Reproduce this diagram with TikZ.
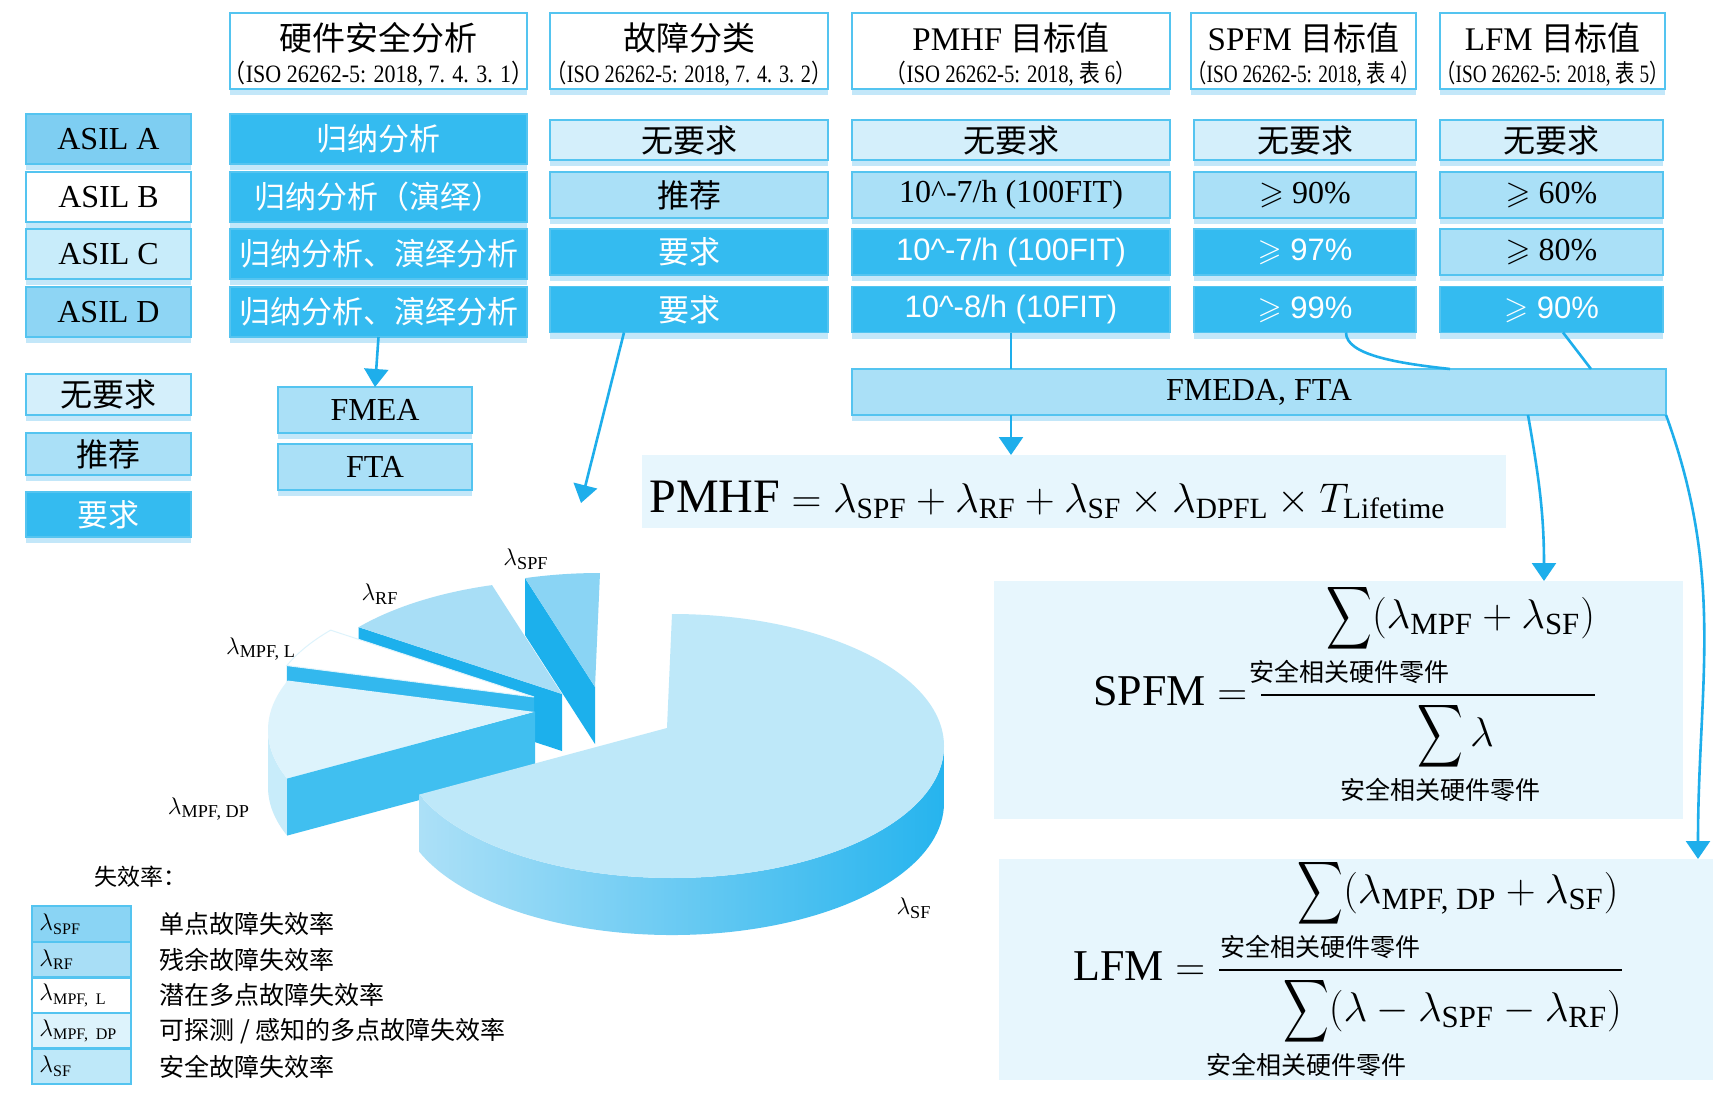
\documentclass[tikz,border=0pt]{standalone}
\usepackage{amsmath,amssymb}
\usepackage{graphicx}
\usepackage{fontspec}
\setmainfont{Liberation Serif}
\setsansfont{Liberation Sans}
\newfontfamily\cjk{Noto Sans CJK SC}
\usepackage{xcolor}
\usepackage{tikz}
\usetikzlibrary{arrows.meta,positioning,calc,shadows}
\definecolor{celldark}{RGB}{52,187,240}
\definecolor{cellmid}{RGB}{170,224,247}
\definecolor{celllight}{RGB}{212,239,251}
\definecolor{asilafill}{RGB}{126,206,242}
\definecolor{asilcfill}{RGB}{200,236,250}
\definecolor{asildfill}{RGB}{142,213,244}
\definecolor{boxline}{RGB}{84,196,240}
\definecolor{shadowblue}{RGB}{180,226,248}
\definecolor{eqback}{RGB}{231,246,253}
\definecolor{arrowblue}{RGB}{30,174,235}
\definecolor{piesf}{RGB}{190,232,249}
\definecolor{piesfl}{RGB}{172,224,247}
\definecolor{piesfside}{RGB}{38,180,238}
\definecolor{piespf}{RGB}{138,212,244}
\definecolor{pierf}{RGB}{168,222,246}
\definecolor{piedp}{RGB}{221,243,252}
\definecolor{piedpside}{RGB}{200,236,250}
\definecolor{piewall}{RGB}{28,176,236}
\definecolor{piedpwall}{RGB}{64,191,240}
\newcommand{\zh}[1]{{\cjk #1}}
\newcommand{\subt}[2]{\scalebox{#1}[1]{#2}}
\newcommand{\partset}{\hbox to 0pt{\hss\fontsize{12.5}{13}\selectfont\cjk 安全相关硬件零件\hss}}
\newcommand{\bigsum}{\mathop{\scalebox{0.72}[1]{$\displaystyle\sum$}}\limits}
\newcommand{\ratio}[2]{\genfrac{}{}{0.9pt}{}{#1}{#2}}

\begin{document}
\begin{tikzpicture}[x=0.5pt,y=0.5pt,
  cell/.style={draw=boxline,line width=0.7pt,inner sep=0pt,outer sep=0pt,
    font=\fontsize{16}{18}\selectfont,
    drop shadow={shadow xshift=0pt,shadow yshift=-3pt,fill=shadowblue,opacity=0.8}},
  hdr/.style={cell,fill=white,minimum height=38pt},
  hdrtitle/.style={inner sep=0pt,font=\fontsize{16.5}{18}\selectfont},
  hdrsub/.style={inner sep=0pt,font=\fontsize{12.5}{14}\selectfont},
  dark/.style={cell,fill=celldark,text=white,font=\sffamily\fontsize{15.5}{18}\selectfont},
  mid/.style={cell,fill=cellmid},
  light/.style={cell,fill=celllight},
  asil/.style={cell,minimum width=82.5pt,minimum height=25pt},
  hsacol/.style={minimum width=148.5pt,minimum height=25pt},
  fccol/.style={minimum width=139pt,minimum height=23pt},
  pmhfcol/.style={minimum width=159pt,minimum height=23pt},
  spfmcol/.style={minimum width=111pt,minimum height=23pt},
  lfmcol/.style={minimum width=111.5pt,minimum height=23pt},
  firstrow/.style={minimum height=20pt},
  key/.style={minimum width=82.5pt},
  method/.style={mid,minimum width=97pt,minimum height=23pt},
  eqbox/.style={fill=eqback,inner sep=0pt,outer sep=0pt},
  eqtext/.style={inner sep=0pt,font=\fontsize{22}{26}\selectfont},
  pierad/.style={x radius=136pt,y radius=66pt},
  pielabel/.style={inner sep=0pt,font=\fontsize{13}{15}\selectfont},
  swatch/.style={draw=boxline,line width=1.2pt,inner xsep=3.75pt,inner ysep=0pt,outer sep=0pt,
    text width=42pt,align=left,minimum height=17.8pt,font=\fontsize{11.5}{12}\selectfont},
  keytext/.style={inner sep=0pt,font=\cjk\fontsize{12.5}{14}\selectfont},
  link/.style={draw=arrowblue,line width=1.3pt},
  arrow/.style={link,-{Triangle[length=9pt,width=12pt]}}
]
\useasboundingbox (0,0) rectangle (1726,-1097);
\fill[white] (0,0) rectangle (1726,-1097);

% column heads
\node[hdr,minimum width=148.5pt] (hsa) at (378.5,-51) {};
\node[hdrtitle] (hsat) at (378.5,-38) {\zh{硬件安全分析}};
\node[hdrsub] (hsas) at (378.5,-74) {\subt{0.88}{\zh{（}ISO 26262-5: 2018, 7. 4. 3. 1\zh{）}}};
\node[hdr,minimum width=139pt] (fc) at (689,-51) {};
\node[hdrtitle] (fct) at (689,-38) {\zh{故障分类}};
\node[hdrsub] (fcs) at (689,-74) {\subt{0.81}{\zh{（}ISO 26262-5: 2018, 7. 4. 3. 2\zh{）}}};
\node[hdr,minimum width=159pt] (pmhf) at (1011,-51) {};
\node[hdrtitle] (pmhft) at (1011,-38) {PMHF \zh{目标值}};
\node[hdrsub] (pmhfs) at (1011,-74) {\subt{0.83}{\zh{（}ISO 26262-5: 2018, \zh{表} 6\zh{）}}};
\node[hdr,minimum width=112.5pt] (spfm) at (1303.5,-51) {};
\node[hdrtitle] (spfmt) at (1303.5,-38) {SPFM \zh{目标值}};
\node[hdrsub] (spfms) at (1303.5,-74) {\subt{0.77}{\zh{（}ISO 26262-5: 2018, \zh{表} 4\zh{）}}};
\node[hdr,minimum width=112.5pt] (lfm) at (1552.5,-51) {};
\node[hdrtitle] (lfmt) at (1552.5,-38) {LFM \zh{目标值}};
\node[hdrsub] (lfms) at (1552.5,-74) {\subt{0.77}{\zh{（}ISO 26262-5: 2018, \zh{表} 5\zh{）}}};

% ASIL levels
\node[asil,fill=asilafill] (asila) at (108.5,-139) {ASIL A};
\node[asil,fill=white] (asilb) at (108.5,-197) {ASIL B};
\node[asil,fill=asilcfill] (asilc) at (108.5,-254) {ASIL C};
\node[asil,fill=asildfill] (asild) at (108.5,-312) {ASIL D};

% hardware safety analysis
\node[dark,hsacol] (hsa1) at (378.5,-139) {\zh{归纳分析}};
\node[dark,hsacol] (hsa2) at (378.5,-197) {\zh{归纳分析（演绎）}};
\node[dark,hsacol] (hsa3) at (378.5,-254) {\zh{归纳分析、演绎分析}};
\node[dark,hsacol] (hsa4) at (378.5,-312) {\zh{归纳分析、演绎分析}};

% fault classes
\node[light,fccol,firstrow] (fc1) at (689,-140) {\zh{无要求}};
\node[mid,fccol] (fc2) at (689,-195) {\zh{推荐}};
\node[dark,fccol] (fc3) at (689,-252) {\zh{要求}};
\node[dark,fccol] (fc4) at (689,-309.5) {\zh{要求}};

% PMHF targets
\node[light,pmhfcol,firstrow] (pmhf1) at (1011,-140) {\zh{无要求}};
\node[mid,pmhfcol] (pmhf2) at (1011,-195) {10\textasciicircum-7/h (100FIT)};
\node[dark,pmhfcol] (pmhf3) at (1011,-252) {10\textasciicircum-7/h (100FIT)};
\node[dark,pmhfcol] (pmhf4) at (1011,-309.5) {10\textasciicircum-8/h (10FIT)};

% SPFM targets
\node[light,spfmcol,firstrow] (spfm1) at (1305,-140) {\zh{无要求}};
\node[mid,spfmcol] (spfm2) at (1305,-195) {$\geqslant$ 90\%};
\node[dark,spfmcol] (spfm3) at (1305,-252) {$\geqslant$ 97\%};
\node[dark,spfmcol] (spfm4) at (1305,-309.5) {$\geqslant$ 99\%};

% LFM targets
\node[light,lfmcol,firstrow] (lfm1) at (1551.5,-140) {\zh{无要求}};
\node[mid,lfmcol] (lfm2) at (1551.5,-195) {$\geqslant$ 60\%};
\node[mid,lfmcol] (lfm3) at (1551.5,-252) {$\geqslant$ 80\%};
\node[dark,lfmcol] (lfm4) at (1551.5,-309.5) {$\geqslant$ 90\%};

% key of cell colours
\node[light,key,minimum height=20.5pt] (keyno) at (108.5,-394.5) {\zh{无要求}};
\node[mid,key,minimum height=21pt] (keyrec) at (108.5,-454) {\zh{推荐}};
\node[dark,key,minimum height=22.5pt] (keyreq) at (108.5,-514.5) {\zh{要求}};

% methods
\node[method] (fmea) at (375,-410) {FMEA};
\node[method] (fta) at (375,-467) {FTA};
\node[mid,minimum width=407pt,minimum height=23pt] (fmeda) at (1259,-392) {FMEDA, FTA};

% formulas
\node[eqbox,minimum width=432pt,minimum height=36.5pt] (pmhfeq) at (1074,-491.5) {};
\node[eqbox,minimum width=344.5pt,minimum height=119pt] (spfmeq) at (1338.5,-700) {};
\node[eqbox,minimum width=357pt,minimum height=110.5pt] (lfmeq) at (1356,-969.5) {};
\node[eqtext,anchor=base west,font=\fontsize{21}{25}\selectfont] (pmhfeqt) at (649,-512)
  {$\text{\fontsize{24}{28}\selectfont PMHF}=\lambda_{\text{SPF}}+\lambda_{\text{RF}}+\lambda_{\text{SF}}\times\lambda_{\text{DPFL}}\times T_{\text{Lifetime}}$};
\node[eqtext,anchor=base west] (spfmeqt) at (1093,-705)
  {$\displaystyle\text{SPFM}=\ratio{\hskip32.5pt\bigsum_{\partset}(\lambda_{\text{MPF}}+\lambda_{\text{SF}})}{\hskip27.5pt\bigsum_{\partset}\lambda}$};
\node[eqtext,anchor=base west] (lfmeqt) at (1073,-980)
  {$\displaystyle\text{LFM}=\ratio{\hskip37.5pt\bigsum_{\partset}(\lambda_{\text{MPF, DP}}+\lambda_{\text{SF}})}{\hskip32pt\bigsum_{\partset}(\lambda-\lambda_{\text{SPF}}-\lambda_{\text{RF}})}$};

% connectors
\coordinate (fcend) at (581,-503);
\draw[arrow] (hsa4.south) -- (fmea.north);
\draw[arrow] ([xshift=-32.5pt]fc4.south) -- (fcend);
\draw[link] (pmhf4.south) -- (pmhf4.south |- fmeda.north);
\draw[arrow] (pmhf4.south |- fmeda.south) -- (pmhf4.south |- pmhfeq.north);
\draw[link] ([xshift=20.5pt]spfm4.south) .. controls +(0,-22) and +(-55,6) .. ([xshift=95.5pt]fmeda.north);
\draw[link] ([xshift=5.75pt]lfm4.south) -- ([xshift=166pt]fmeda.north);
\draw[arrow] ([xshift=134.5pt]fmeda.south) to[out=-80,in=90] ([xshift=102.75pt]spfmeq.north);
\draw[arrow] (fmeda.south east) to[out=-70,in=90] ([xshift=171pt]lfmeq.north);

% exploded pie
\coordinate (spfc) at (600,-705);  \coordinate (spfapex) at (595,-687);
\coordinate (rfc) at (567,-712);   \coordinate (rfapex) at (562,-694);
\coordinate (mlc) at (539,-715);   \coordinate (mlapex) at (534,-697);
\coordinate (dpc) at (540,-730);   \coordinate (dpapex) at (535,-712);
\coordinate (sfc) at (672,-746);   \coordinate (sfapex) at (667,-728);
\fill[piewall] (spfapex) -- ($(spfc)+(106:136pt and 66pt)$) -- ++(0,-57) -- ($(spfapex)+(0,-57)$) -- cycle;
\fill[piespf] (spfapex) -- ($(spfc)+(90:136pt and 66pt)$) arc[start angle=90,end angle=106,pierad] -- cycle;
\fill[piewall] (rfapex) -- ($(rfc)+(140:136pt and 66pt)$) -- ++(0,-57) -- ($(rfapex)+(0,-57)$) -- cycle;
\fill[pierf] (rfapex) -- ($(rfc)+(106:136pt and 66pt)$) arc[start angle=106,end angle=140,pierad] -- cycle;
\fill[piewall!90!white] (mlapex) -- ($(mlc)+(158:136pt and 66pt)$) -- ++(0,-57) -- ($(mlapex)+(0,-57)$) -- cycle;
\filldraw[fill=white,draw=piedp,line width=0.5pt] (mlapex) -- ($(mlc)+(140:136pt and 66pt)$) arc[start angle=140,end angle=158,pierad] -- cycle;
\fill[piedpside] ($(dpc)+(180:136pt and 66pt)$) arc[start angle=180,end angle=201.6,pierad] -- ++(0,-57) arc[start angle=201.6,end angle=180,pierad] -- cycle;
\fill[piedp] (dpapex) -- ($(dpc)+(158:136pt and 66pt)$) arc[start angle=158,end angle=201.6,pierad] -- cycle;
\fill[piedpwall] (dpapex) -- ($(dpc)+(201.6:136pt and 66pt)$) -- ++(0,-57) -- ($(dpapex)+(0,-57)$) -- cycle;
\shade[left color=piesfl,right color=piesfside] ($(sfc)+(0:136pt and 66pt)$) arc[start angle=0,end angle=-158.4,pierad] -- ++(0,-57) arc[start angle=-158.4,end angle=0,pierad] -- cycle;
\fill[piesf] (sfapex) -- ($(sfc)+(90:136pt and 66pt)$) arc[start angle=90,end angle=-158.4,pierad] -- cycle;

% pie labels
\node[pielabel] (lblspf) at (526,-559) {$\lambda_{\text{SPF}}$};
\node[pielabel] (lblrf) at (380,-594) {$\lambda_{\text{RF}}$};
\node[pielabel] (lblml) at (261,-649) {$\lambda_{\text{MPF, L}}$};
\node[pielabel] (lbldp) at (209,-809) {$\lambda_{\text{MPF, DP}}$};
\node[pielabel] (lblsf) at (914,-908) {$\lambda_{\text{SF}}$};

% key of failure rates
\node[inner sep=0pt,anchor=west,font=\cjk\fontsize{11.5}{13}\selectfont] (keyhead) at (94,-877) {失效率：};
\node[swatch,fill=piespf] (kspf) at (81.5,-924) {$\lambda_{\text{SPF}}$};
\node[swatch,fill=pierf,below=0pt of kspf] (krf) {$\lambda_{\text{RF}}$};
\node[swatch,fill=white,below=0pt of krf] (kml) {$\lambda_{\text{MPF, L}}$};
\node[swatch,fill=piedp,below=0pt of kml] (kdp) {$\lambda_{\text{MPF, DP}}$};
\node[swatch,fill=piesf,below=0pt of kdp] (ksf) {$\lambda_{\text{SF}}$};
\node[keytext,right=14pt of kspf] (kspft) {单点故障失效率};
\node[keytext,right=14pt of krf] (krft) {残余故障失效率};
\node[keytext,right=14pt of kml] (kmlt) {潜在多点故障失效率};
\node[keytext,right=14pt of kdp] (kdpt) {可探测 / 感知的多点故障失效率};
\node[keytext,right=14pt of ksf] (ksft) {安全故障失效率};
\end{tikzpicture}
\end{document}
